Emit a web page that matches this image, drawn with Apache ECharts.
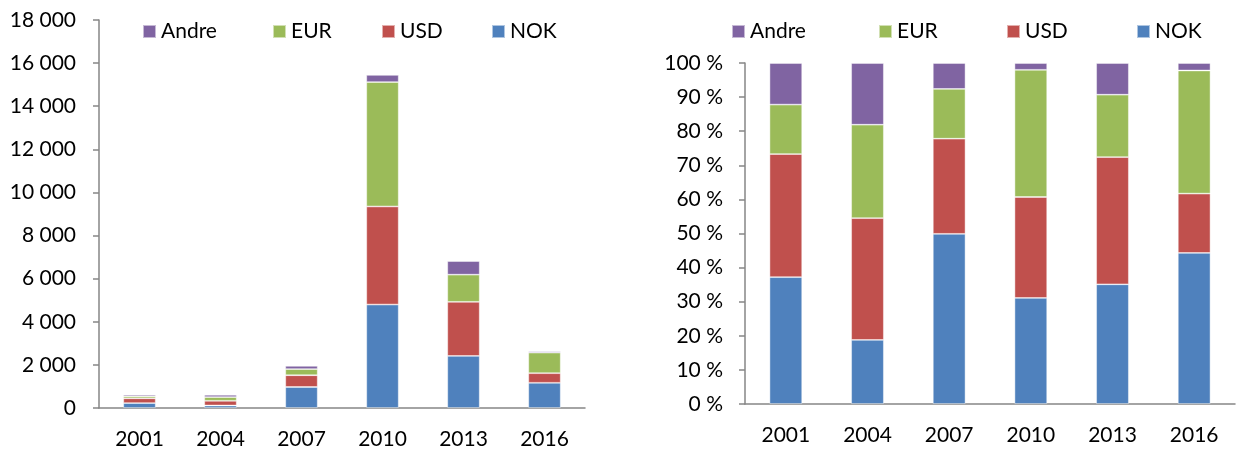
<!DOCTYPE html>
<html>
<head>
<meta charset="utf-8">
<script src="https://cdn.jsdelivr.net/npm/echarts@6/dist/echarts.min.js"></script>
<style>
html,body{margin:0;padding:0;background:#fff;}
#chart{width:1237px;height:450px;}
</style>
</head>
<body>
<div id="chart"></div>
<script>
// Data
const years = ['2001', '2004', '2007', '2010', '2013', '2016'];
const seriesNames = ['NOK', 'USD', 'EUR', 'Andre'];
const legendOrder = ['Andre', 'EUR', 'USD', 'NOK'];

// Left chart: absolute amounts
const absNOK   = [229, 115, 975, 4800, 2415, 1170];
const absUSD   = [222, 220, 545, 4550, 2510, 445];
const absEUR   = [89, 170, 285, 5770, 1260, 955];
const absAndre = [75, 110, 150, 330, 630, 60];

// Right chart: shares in percent
const pctNOK   = [37.2, 18.8, 49.9, 31.1, 35.1, 44.3];
const pctUSD   = [36.1, 35.7, 27.9, 29.6, 37.3, 17.4];
const pctEUR   = [14.5, 27.4, 14.6, 37.3, 18.3, 36.1];
const pctAndre = [12.2, 18.1, 7.6, 2.0, 9.3, 2.2];

const colors = { NOK: '#4F81BD', USD: '#C0504D', EUR: '#9BBB59', Andre: '#8064A2' };
const absData = { NOK: absNOK, USD: absUSD, EUR: absEUR, Andre: absAndre };
const pctData = { NOK: pctNOK, USD: pctUSD, EUR: pctEUR, Andre: pctAndre };

const FONT = 'Lato';
const axisColor = '#868686';
const textStyle = { fontFamily: FONT, fontSize: 21, color: '#000' };

function fmtThousands(v) {
  return String(v).replace(/\B(?=(\d{3})+(?!\d))/g, ' ');
}

const leftLegendX = [142, 272, 381, 491];
const rightLegendX = [731, 878, 1006, 1136];

const legends = [];
legendOrder.forEach((name, i) => {
  [leftLegendX, rightLegendX].forEach(xs => {
    legends.push({
      left: xs[i], top: 21,
      data: [name],
      icon: 'rect', itemWidth: 13, itemHeight: 13,
      selectedMode: false,
      textStyle: { fontFamily: FONT, fontSize: 21, color: '#000' },
      padding: 0
    });
  });
});

const series = [];
seriesNames.forEach(name => {
  series.push({
    name, type: 'bar', stack: 'abs', xAxisIndex: 0, yAxisIndex: 0,
    data: absData[name], barWidth: '40%',
    itemStyle: { color: colors[name], borderColor: 'rgba(255,255,255,0.55)', borderWidth: 0.8 },
    animation: false
  });
  series.push({
    name, type: 'bar', stack: 'pct', xAxisIndex: 1, yAxisIndex: 1,
    data: pctData[name], barWidth: '40%',
    itemStyle: { color: colors[name], borderColor: 'rgba(255,255,255,0.55)', borderWidth: 0.8 },
    animation: false
  });
});

const xAxisCommon = {
  type: 'category', data: years,
  axisLine: { lineStyle: { color: axisColor, width: 1.5 } },
  axisTick: { inside: true, length: 7, lineStyle: { color: axisColor, width: 1.5 } },
  axisLabel: Object.assign({ margin: 21 }, textStyle)
};

const option = {
  animation: false,
  backgroundColor: '#fff',
  legend: legends,
  grid: [
    { left: 99, top: 20, width: 486, height: 388 },
    { left: 745, top: 63, width: 490, height: 341 }
  ],
  xAxis: [
    Object.assign({ gridIndex: 0 }, xAxisCommon),
    Object.assign({ gridIndex: 1 }, xAxisCommon)
  ],
  yAxis: [
    {
      gridIndex: 0, type: 'value', min: 0, max: 18000, interval: 2000,
      axisLine: { show: true, lineStyle: { color: axisColor, width: 1.5 } },
      axisTick: { show: true, length: 6, lineStyle: { color: axisColor, width: 1.5 } },
      splitLine: { show: false },
      axisLabel: Object.assign({ margin: 23, formatter: fmtThousands }, textStyle)
    },
    {
      gridIndex: 1, type: 'value', min: 0, max: 100, interval: 10,
      axisLine: { show: true, lineStyle: { color: axisColor, width: 1.5 } },
      axisTick: { show: true, length: 6, lineStyle: { color: axisColor, width: 1.5 } },
      splitLine: { show: false },
      axisLabel: Object.assign({ margin: 22, formatter: '{value} %' }, textStyle)
    }
  ],
  series
};

const chart = echarts.init(document.getElementById('chart'), null, { renderer: 'canvas' });
chart.setOption(option);
</script>
</body>
</html>
